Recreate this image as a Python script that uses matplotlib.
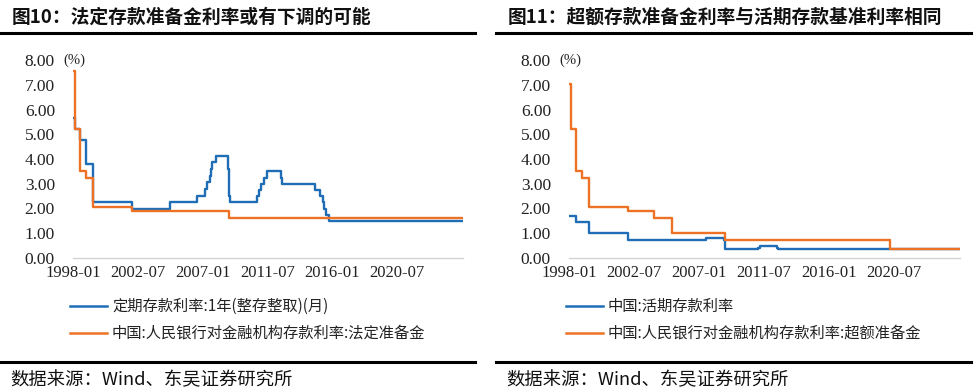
import matplotlib
matplotlib.use("Agg")
import matplotlib.pyplot as plt
import matplotlib.dates as mdates
import pandas as pd
from matplotlib.lines import Line2D

plt.rcParams['font.family'] = ['Noto Sans CJK SC', 'DejaVu Sans']

# 左图：1年定期存款利率 与 法定准备金利率（变动时点）
dep1y_dates = ["1998-01", "1998-03", "1998-07", "1998-12", "1999-06", "2002-02", "2004-10",
               "2006-08", "2007-03", "2007-05", "2007-07", "2007-08", "2007-09", "2007-12",
               "2008-10", "2008-11", "2008-12", "2010-10", "2010-12", "2011-02", "2011-04",
               "2011-07", "2012-06", "2012-07", "2014-11", "2015-03", "2015-05", "2015-06",
               "2015-08", "2015-10", "2025-01"]
dep1y_vals = [5.67, 5.22, 4.77, 3.78, 2.25, 1.98, 2.25,
              2.52, 2.79, 3.06, 3.33, 3.60, 3.87, 4.14,
              3.60, 2.52, 2.25, 2.50, 2.75, 3.00, 3.25,
              3.50, 3.25, 3.00, 2.75, 2.50, 2.25, 2.00,
              1.75, 1.50, 1.50]

rrr_dates = ["1998-01", "1998-03", "1998-07", "1998-12", "1999-06", "2002-02", "2008-11", "2025-01"]
rrr_vals = [7.56, 5.22, 3.51, 3.24, 2.07, 1.89, 1.62, 1.62]

# 右图：活期存款利率 与 超额准备金利率
demand_dates = ["1998-01", "1998-07", "1999-06", "2002-02", "2007-07", "2008-10", "2008-11",
                "2011-02", "2011-04", "2012-06", "2012-07", "2025-01"]
demand_vals = [1.71, 1.44, 0.99, 0.72, 0.81, 0.72, 0.36, 0.40, 0.50, 0.40, 0.35, 0.35]

excess_dates = ["1998-01", "1998-03", "1998-07", "1998-12", "1999-06", "2002-02", "2003-12",
                "2005-03", "2008-11", "2020-04", "2025-01"]
excess_vals = [7.02, 5.22, 3.51, 3.24, 2.07, 1.89, 1.62, 0.99, 0.72, 0.35, 0.35]

tick_dates = ["1998-01", "2002-07", "2007-01", "2011-07", "2016-01", "2020-07"]
yticks = [0, 1, 2, 3, 4, 5, 6, 7, 8]

titles = ["图10：法定存款准备金利率或有下调的可能", "图11：超额存款准备金利率与活期存款基准利率相同"]
labels_left = ["定期存款利率:1年(整存整取)(月)", "中国:人民银行对金融机构存款利率:法定准备金"]
labels_right = ["中国:活期存款利率", "中国:人民银行对金融机构存款利率:超额准备金"]
source = "数据来源：Wind、东吴证券研究所"

BLUE = "#1F6EB5"
ORANGE = "#EE7225"

fig = plt.figure(figsize=(9.74, 3.91), dpi=100)
W, H = 974, 391


def fx(px):
    return px / W


def fy(py):
    return 1 - py / H


def panel(x0, x1, title, series, labels):
    # 标题与分隔线
    fig.text(fx(x0 - 61), fy(17), title, fontsize=13.5, fontweight='bold',
             va='center', ha='left', color='#111111')
    fig.add_artist(Line2D([fx(x0 - 73), fx(x0 + 402)], [fy(33), fy(33)],
                          color='black', lw=2.2, transform=fig.transFigure))
    fig.add_artist(Line2D([fx(x0 - 73), fx(x0 + 402)], [fy(362), fy(362)],
                          color='black', lw=2.2, transform=fig.transFigure))
    fig.text(fx(x0 - 63), fy(380), source, fontsize=13.2, va='center', ha='left',
             color='#111111')

    ax = fig.add_axes([fx(x0), fy(258), fx(x1 - x0), (258 - 60) / H])
    for (d, v, c) in series:
        ax.plot(pd.to_datetime(d), v, color=c, lw=1.7, drawstyle='steps-post')
    ax.set_ylim(0, 8)
    ax.set_xlim(pd.Timestamp("1998-01-01"), pd.Timestamp("2025-02-01"))
    ax.set_yticks(yticks)
    ax.set_yticklabels([f"{t:.2f}" for t in yticks], fontfamily='Liberation Serif',
                       fontsize=12.5, color='#222222')
    ax.set_xticks(pd.to_datetime(tick_dates))
    ax.xaxis.set_major_formatter(mdates.DateFormatter("%Y-%m"))
    for lab in ax.get_xticklabels():
        lab.set_fontfamily('Liberation Serif')
        lab.set_fontsize(12)
        lab.set_color('#222222')
    ax.tick_params(length=0, pad=5)
    ax.tick_params(axis='y', pad=13)
    for s in ['top', 'right', 'left']:
        ax.spines[s].set_visible(False)
    ax.spines['bottom'].set_color('#d4d4d4')
    ax.spines['bottom'].set_linewidth(1.0)
    ax.text(-0.025, 1.0, "(%)", transform=ax.transAxes, fontsize=10.5,
            fontfamily='Liberation Serif', ha='left', va='center', color='#222222')

    # 图例
    for i, (lab, (d, v, c)) in enumerate(zip(labels, series)):
        y = 306 + 27 * i
        fig.add_artist(Line2D([fx(x0 - 3), fx(x0 + 34)], [fy(y), fy(y)], color=c,
                              lw=1.8, transform=fig.transFigure))
        fig.text(fx(x0 + 39), fy(y), lab, fontsize=11, va='center', ha='left',
                 color='#222222')
    return ax


panel(73, 463, titles[0],
      [(dep1y_dates, dep1y_vals, BLUE), (rrr_dates, rrr_vals, ORANGE)], labels_left)
panel(569, 960, titles[1],
      [(demand_dates, demand_vals, BLUE), (excess_dates, excess_vals, ORANGE)], labels_right)

fig.savefig("out.png", dpi=100, facecolor='white')
